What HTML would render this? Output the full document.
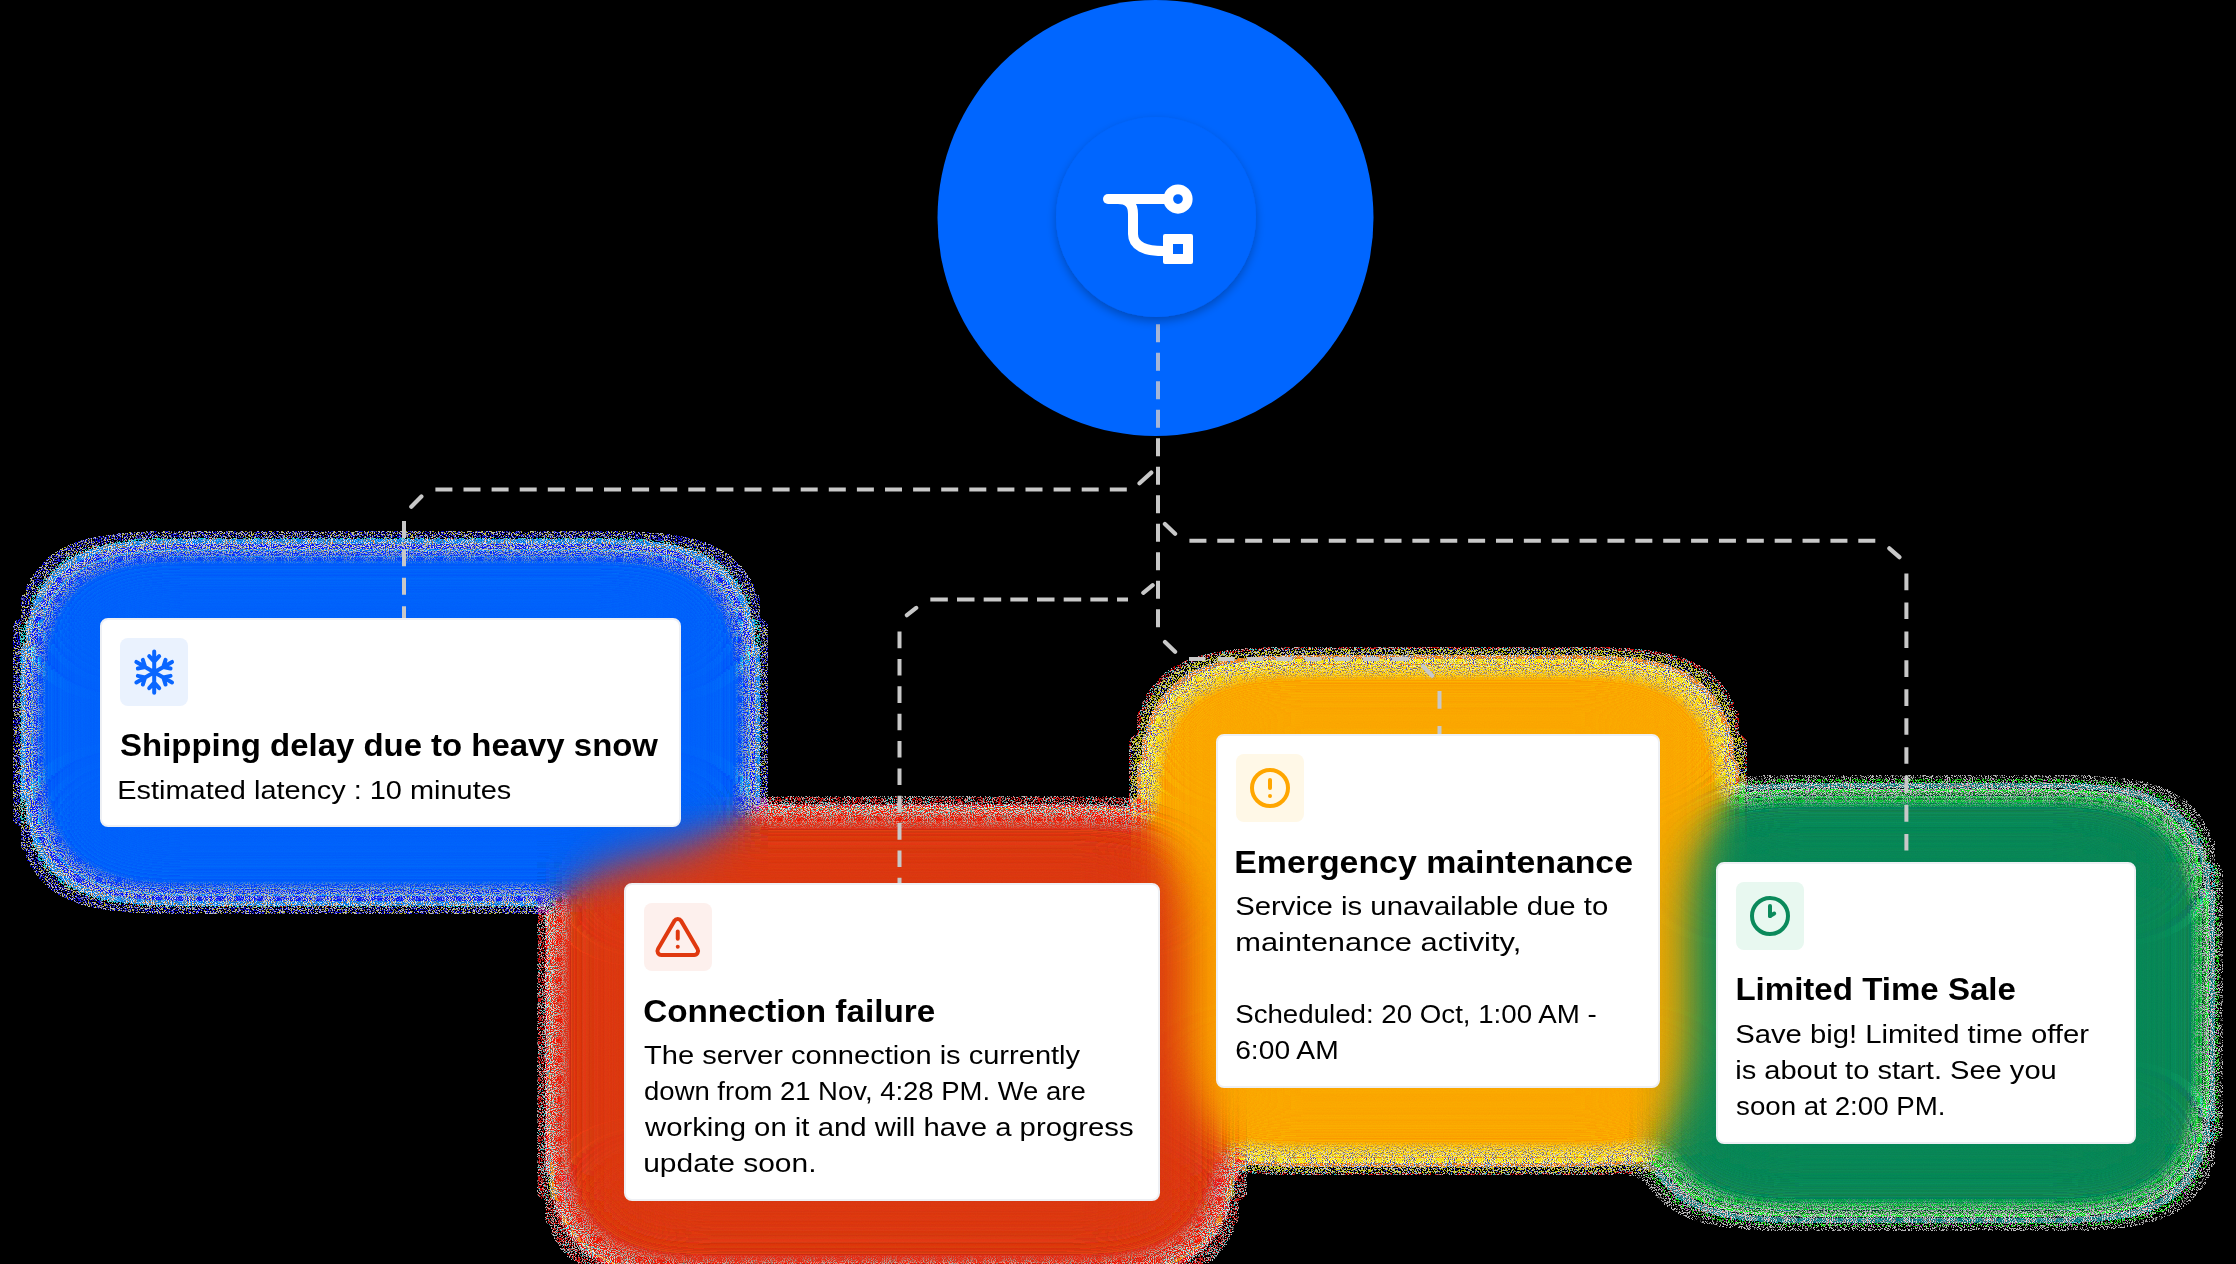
<!DOCTYPE html>
<html><head><meta charset="utf-8"><title>Notifications</title>
<style>
html,body{margin:0;padding:0;background:#000;width:2236px;height:1264px;overflow:hidden}
svg{position:absolute;left:0;top:0;display:block}
text{font-family:"Liberation Sans",sans-serif;fill:#000}
.t{font-weight:700;font-size:31px}
.b{font-weight:400;font-size:26px}
</style></head><body>
<svg width="2236" height="1264" viewBox="0 0 2236 1264">
<defs>
<filter id="glow" filterUnits="userSpaceOnUse" x="0" y="0" width="2236" height="1264" color-interpolation-filters="sRGB">
<feGaussianBlur in="SourceGraphic" stdDeviation="38.0" result="b"/>
<feTurbulence type="fractalNoise" baseFrequency="0.85" numOctaves="1" seed="31" result="nd"/>
<feColorMatrix in="nd" type="matrix" values="1 0 0 0 0  0 1 0 0 0  0 0 1 0 0  0 0 0 0 0.5" result="ndg"/>
<feComposite in="b" in2="ndg" operator="arithmetic" k1="0" k2="1" k3="0.0" k4="-0.0" result="bd"/>
<feComponentTransfer in="bd" result="solid"><feFuncA type="linear" slope="255" intercept="0"/></feComponentTransfer>
<feComponentTransfer in="solid" result="sat"><feFuncR type="linear" slope="8" intercept="-3.5"/><feFuncG type="linear" slope="8" intercept="-3.5"/><feFuncB type="linear" slope="8" intercept="-3.5"/></feComponentTransfer>
<feComponentTransfer in="sat" result="comp"><feFuncR type="linear" slope="-1" intercept="1"/><feFuncG type="linear" slope="-1" intercept="1"/><feFuncB type="linear" slope="-1" intercept="1"/></feComponentTransfer>
<feColorMatrix in="b" type="matrix" values="0 0 0 0 1  0 0 0 0 1  0 0 0 0 1  0 0 0 -24.0 1" result="edge"/>
<feComposite in="sat" in2="edge" operator="in" result="satEdge"/>
<feTurbulence type="fractalNoise" baseFrequency="0.95" numOctaves="1" seed="11" result="n2"/>
<feColorMatrix in="n2" type="matrix" values="0 0 0 0 1  0 0 0 0 1  0 0 0 0 1  10 0 0 0 -4.9" result="dotsW"/>
<feComposite in="dotsW" in2="edge" operator="in" result="dotsEdge"/>
<feColorMatrix in="n2" type="matrix" values="0 0 0 0 0  0 0 0 0 0  0 0 0 0 0  0 12 0 0 -6.3" result="cA"/>
<feComposite in="comp" in2="cA" operator="in" result="comp2"/>
<feComposite in="comp2" in2="edge" operator="in" result="dotsC"/>
<feMerge result="col"><feMergeNode in="solid"/><feMergeNode in="satEdge"/><feMergeNode in="dotsC"/><feMergeNode in="dotsEdge"/></feMerge>
<feTurbulence type="fractalNoise" baseFrequency="0.7" numOctaves="2" seed="7" result="n"/>
<feColorMatrix in="n" type="matrix" values="0 0 0 0 0  0 0 0 0 0  0 0 0 0 0  3 0 0 0 -0.9" result="nA"/>
<feComposite in="b" in2="nA" operator="arithmetic" k1="1" k2="1" k3="0" k4="0" result="sum"/>
<feComponentTransfer in="sum" result="mask"><feFuncA type="linear" slope="255" intercept="-1.2"/></feComponentTransfer>
<feComposite in="col" in2="ndg" operator="arithmetic" k1="0" k2="1" k3="0.07" k4="-0.035" result="colg"/>
<feComposite in="colg" in2="mask" operator="in"/>
</filter>
<filter id="ishadow" x="-30%" y="-30%" width="160%" height="160%">
<feDropShadow dx="0" dy="4" stdDeviation="5" flood-color="#000" flood-opacity="0.28"/>
</filter>
<clipPath id="incirc"><circle cx="1155.5" cy="218" r="218"/></clipPath>
<mask id="outcirc" maskUnits="userSpaceOnUse" x="0" y="0" width="2236" height="1264"><rect width="2236" height="1264" fill="#fff"/><circle cx="1155.5" cy="218" r="218" fill="#000"/></mask>
</defs>

<g filter="url(#glow)">
<rect x="100" y="618" width="581" height="209" rx="10" fill="#0066ff" fill-opacity="0.6"/>
<rect x="624" y="883" width="536" height="318" rx="10" fill="#e03c14" fill-opacity="0.6"/>
<rect x="1216" y="734" width="444" height="354" rx="10" fill="#ffab00" fill-opacity="0.6"/>
<rect x="1716" y="862" width="420" height="282" rx="10" fill="#0c8a5a" fill-opacity="0.6"/>
</g>
<circle cx="1155.5" cy="218" r="218" fill="#0066ff"/>
<path d="M435.40,489.6H452.40 M463.50,489.6H480.50 M491.60,489.6H508.60 M519.70,489.6H536.70 M547.80,489.6H564.80 M575.90,489.6H592.90 M604.00,489.6H621.00 M632.10,489.6H649.10 M660.20,489.6H677.20 M688.30,489.6H705.30 M716.40,489.6H733.40 M744.50,489.6H761.50 M772.60,489.6H789.60 M800.70,489.6H817.70 M828.80,489.6H845.80 M856.90,489.6H873.90 M885.00,489.6H902.00 M913.10,489.6H930.10 M941.20,489.6H958.20 M969.30,489.6H986.30 M997.40,489.6H1014.40 M1025.50,489.6H1042.50 M1053.60,489.6H1070.60 M1081.70,489.6H1098.70 M1109.80,489.6H1126.80 M404,520.90V537.90 M404,549.35V566.35 M404,577.80V594.80 M404,606.25V618.00 M930.33,599.5H947.83 M957.00,599.5H974.50 M983.67,599.5H1001.17 M1010.34,599.5H1027.84 M1037.01,599.5H1054.51 M1063.68,599.5H1081.18 M1090.35,599.5H1107.85 M1117.02,599.5H1128.00 M899.5,631.58V648.18 M899.5,658.94V675.54 M899.5,686.30V702.90 M899.5,713.66V730.26 M899.5,741.02V757.62 M899.5,768.38V784.98 M899.5,795.74V812.34 M899.5,823.10V839.70 M899.5,850.46V867.06 M899.5,877.82V883.00 M1189.42,540.8H1206.42 M1217.29,540.8H1234.29 M1245.16,540.8H1262.16 M1273.03,540.8H1290.03 M1300.90,540.8H1317.90 M1328.77,540.8H1345.77 M1356.64,540.8H1373.64 M1384.51,540.8H1401.51 M1412.38,540.8H1429.38 M1440.25,540.8H1457.25 M1468.12,540.8H1485.12 M1495.99,540.8H1512.99 M1523.86,540.8H1540.86 M1551.73,540.8H1568.73 M1579.60,540.8H1596.60 M1607.47,540.8H1624.47 M1635.34,540.8H1652.34 M1663.21,540.8H1680.21 M1691.08,540.8H1708.08 M1718.95,540.8H1735.95 M1746.82,540.8H1763.82 M1774.69,540.8H1791.69 M1802.56,540.8H1819.56 M1830.43,540.8H1847.43 M1858.30,540.8H1875.30 M1906.4,573.54V590.14 M1906.4,602.48V619.08 M1906.4,631.42V648.02 M1906.4,660.36V676.96 M1906.4,689.30V705.90 M1906.4,718.24V734.84 M1906.4,747.18V763.78 M1906.4,776.12V792.72 M1906.4,805.06V821.66 M1906.4,834.00V850.60 M1189.00,659H1205.50 M1218.00,659H1234.50 M1247.00,659H1263.50 M1276.00,659H1292.50 M1305.00,659H1321.50 M1334.00,659H1350.50 M1363.00,659H1379.50 M1392.00,659H1408.50 M1439.5,691V708.8 M1439.5,726V734" fill="none" stroke="#c8c8c8" stroke-width="4" stroke-linecap="butt"/>
<path d="M1139.5,483.3L1151.3,472.6 M411.3,506.7L421.4,496.6 M1143.3,592.8L1152.7,585.2 M906.9,615.2L916.2,607.9 M1164.9,523.9L1175.1,533.7 M1889.3,548.3L1899.4,557.2 M1165,642L1175.1,651.7 M1423.1,666.1L1432.2,675.7" fill="none" stroke="#c8c8c8" stroke-width="4.2" stroke-linecap="round"/>
<path d="M1158,324.20V342.20 M1158,352.70V370.70 M1158,381.20V399.20 M1158,409.70V427.70 M1158,438.20V456.20 M1158,466.70V484.70 M1158,495.20V513.20 M1158,523.70V541.70 M1158,552.20V570.20 M1158,580.70V598.70 M1158,609.20V627.20" fill="none" stroke="#c8c8c8" stroke-width="4" mask="url(#outcirc)"/>
<path d="M1158,324.20V342.20 M1158,352.70V370.70 M1158,381.20V399.20 M1158,409.70V427.70 M1158,438.20V456.20 M1158,466.70V484.70 M1158,495.20V513.20 M1158,523.70V541.70 M1158,552.20V570.20 M1158,580.70V598.70 M1158,609.20V627.20" fill="none" stroke="#a6b6d8" stroke-width="4" clip-path="url(#incirc)"/>
<circle cx="1156" cy="217" r="100" fill="#0066ff" filter="url(#ishadow)"/>
<g fill="none" stroke="#fff" stroke-width="10" stroke-linecap="round" stroke-linejoin="round">
<path d="M1108,199 H1166"/>
<circle cx="1178" cy="199" r="9.75" stroke-width="9.75"/>
<path d="M1118,199 C1128,199 1133,204 1133,214 V234 C1133,246 1145,251 1163,251" stroke-linecap="butt"/>
<path d="M1165,234 H1191 Q1193,234 1193,236 V262 Q1193,264 1191,264 H1165 Q1163,264 1163,262 V236 Q1163,234 1165,234 Z M1173,244 V254 H1183 V244 Z" fill="#fff" stroke="none" fill-rule="evenodd"/>
</g>
<rect x="101" y="619" width="579" height="207" rx="7" fill="#fff" stroke="#eef0f4" stroke-width="2"/>
<rect x="120" y="638" width="68" height="68" rx="8" fill="#eaf2fe"/>
<rect x="625" y="884" width="534" height="316" rx="7" fill="#fff" stroke="#eef0f4" stroke-width="2"/>
<rect x="644" y="903" width="68" height="68" rx="8" fill="#fdf0ed"/>
<rect x="1217" y="735" width="442" height="352" rx="7" fill="#fff" stroke="#eef0f4" stroke-width="2"/>
<rect x="1236" y="754" width="68" height="68" rx="8" fill="#fff8e7"/>
<rect x="1717" y="863" width="418" height="280" rx="7" fill="#fff" stroke="#eef0f4" stroke-width="2"/>
<rect x="1736" y="882" width="68" height="68" rx="8" fill="#e8f8f0"/>
<path d="M154.20,672.20 L154.20,651.60 M159.20,656.20 L154.20,661.70 L149.20,656.20 M154.20,672.20 L136.36,661.90 M142.84,659.87 L145.11,666.95 L137.84,668.53 M154.20,672.20 L136.36,682.50 M137.84,675.87 L145.11,677.45 L142.84,684.53 M154.20,672.20 L154.20,692.80 M149.20,688.20 L154.20,682.70 L159.20,688.20 M154.20,672.20 L172.04,682.50 M165.56,684.53 L163.29,677.45 L170.56,675.87 M154.20,672.20 L172.04,661.90 M170.56,668.53 L163.29,666.95 L165.56,659.87" fill="none" stroke="#0a66ff" stroke-width="4" stroke-linecap="round" stroke-linejoin="round"/>
<g transform="translate(653.4,913.4) scale(2.03,2.08)" fill="none" stroke="#e0390f" stroke-width="1.95" stroke-linecap="round" stroke-linejoin="round"><path d="M12 8.7v3.5"/><path d="M10.363 3.591l-8.106 13.534a1.914 1.914 0 0 0 1.636 2.871h16.214a1.914 1.914 0 0 0 1.636 -2.87l-8.106 -13.536a1.914 1.914 0 0 0 -3.274 0z"/><path d="M12 16h.01"/></g>
<g transform="translate(1246,764) scale(2)" fill="none" stroke="#ffa600" stroke-width="2" stroke-linecap="round" stroke-linejoin="round"><circle cx="12" cy="12" r="9"/><path d="M12 8v4"/><path d="M12 16h.01"/></g>
<g transform="translate(1746,892) scale(2)" fill="none" stroke="#0b8a5b" stroke-width="2" stroke-linecap="round" stroke-linejoin="round"><circle cx="12" cy="12" r="9"/><path d="M12 12l2.1 -1.2"/><path d="M12 7v5"/></g>
<g opacity="0.999">
<text class="t" x="120.10" y="756.3" textLength="537.90" lengthAdjust="spacingAndGlyphs">Shipping delay due to heavy snow</text>
<text class="b" x="117.30" y="798.7" textLength="393.92" lengthAdjust="spacingAndGlyphs">Estimated latency : 10 minutes</text>
<text class="t" x="643.20" y="1022.2" textLength="292.02" lengthAdjust="spacingAndGlyphs">Connection failure</text>
<text class="b" x="644.10" y="1064.4" textLength="436.01" lengthAdjust="spacingAndGlyphs">The server connection is currently</text>
<text class="b" x="644.10" y="1100.3" textLength="441.59" lengthAdjust="spacingAndGlyphs">down from 21 Nov, 4:28 PM. We are</text>
<text class="b" x="645.00" y="1136.2" textLength="488.60" lengthAdjust="spacingAndGlyphs">working on it and will have a progress</text>
<text class="b" x="643.20" y="1172.0" textLength="173.29" lengthAdjust="spacingAndGlyphs">update soon.</text>
<text class="t" x="1234.30" y="872.7" textLength="398.71" lengthAdjust="spacingAndGlyphs">Emergency maintenance</text>
<text class="b" x="1235.20" y="914.5" textLength="373.02" lengthAdjust="spacingAndGlyphs">Service is unavailable due to</text>
<text class="b" x="1235.20" y="950.6" textLength="286.08" lengthAdjust="spacingAndGlyphs">maintenance activity,</text>
<text class="b" x="1235.20" y="1022.7" textLength="361.44" lengthAdjust="spacingAndGlyphs">Scheduled: 20 Oct, 1:00 AM -</text>
<text class="b" x="1235.20" y="1058.8" textLength="103.50" lengthAdjust="spacingAndGlyphs">6:00 AM</text>
<text class="t" x="1735.41" y="1000.3" textLength="280.49" lengthAdjust="spacingAndGlyphs">Limited Time Sale</text>
<text class="b" x="1735.20" y="1043.4" textLength="353.75" lengthAdjust="spacingAndGlyphs">Save big! Limited time offer</text>
<text class="b" x="1735.20" y="1079.2" textLength="321.55" lengthAdjust="spacingAndGlyphs">is about to start. See you</text>
<text class="b" x="1736.10" y="1115.0" textLength="209.39" lengthAdjust="spacingAndGlyphs">soon at 2:00 PM.</text>
</g>
</svg>
</body></html>
